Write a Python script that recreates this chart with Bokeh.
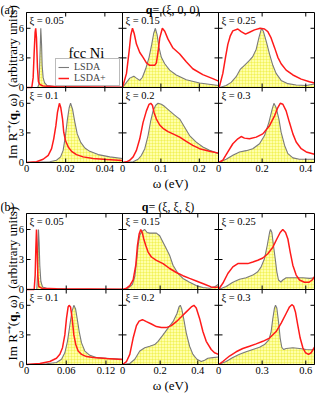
import math
from bokeh.plotting import figure
from bokeh.models import Range1d, Label, Legend, LegendItem
from bokeh.core.properties import value
from bokeh.embed import file_html
from bokeh.resources import INLINE

SERIF = "Liberation Serif"
GRAY = "#7a7a7a"
RED = "#ff1a1a"
FILL = "#ffffa8"

# ---------------- data: (a) q = (xi, 0, 0) ----------------
w_a005_lsda = [0, 0.0055, 0.0058, 0.0063, 0.0066, 0.0070, 0.0073, 0.0077, 0.0080, 0.0085, 0.0092, 0.0105, 0.0153, 0.0323, 0.049]
im_a005_lsda = [0, 0, 0.05, 0.3, 1.5, 4.0, 6.0, 4.3, 2.2, 1.0, 0.5, 0.2, 0.1, 0.05, 0.03]
w_a005_ldau = [0, 0.0027, 0.0034, 0.0039, 0.0044, 0.0047, 0.0051, 0.0056, 0.0061, 0.0068, 0.0085, 0.0153, 0.049]
im_a005_ldau = [0, 0, 1.0, 3.5, 5.6, 6.0, 5.0, 2.0, 0.6, 0.3, 0.15, 0.08, 0.03]

w_a015_lsda = [0, 0.0104, 0.019, 0.0294, 0.0363, 0.045, 0.0519, 0.0606, 0.0692, 0.0761, 0.0813, 0.0856, 0.090, 0.0952, 0.1012, 0.110, 0.1228, 0.140, 0.166, 0.2007, 0.25]
im_a015_lsda = [0, 0.52, 0.95, 1.15, 0.95, 0.72, 1.04, 1.92, 3.06, 4.37, 5.5, 6.0, 5.35, 4.04, 3.06, 2.41, 1.76, 1.27, 0.78, 0.46, 0.2]
w_a015_ldau = [0, 0.0104, 0.0173, 0.0216, 0.026, 0.0303, 0.0363, 0.045, 0.0536, 0.0623, 0.0709, 0.0839, 0.0882, 0.0926, 0.0969, 0.1038, 0.110, 0.1185, 0.1315, 0.149, 0.166, 0.183, 0.209, 0.235, 0.25]
im_a015_ldau = [0, 1.43, 3.7, 5.3, 6.0, 5.5, 4.4, 3.55, 3.06, 2.5, 2.25, 2.25, 2.5, 3.6, 5.0, 6.0, 5.7, 4.9, 4.0, 3.4, 2.6, 1.9, 1.3, 0.9, 0.65]

w_a025_lsda = [0, 0.0046, 0.0351, 0.0581, 0.081, 0.0993, 0.119, 0.142, 0.157, 0.173, 0.185, 0.197, 0.206, 0.2185, 0.234, 0.249, 0.264, 0.287, 0.318, 0.356, 0.402, 0.44]
im_a025_lsda = [0, 0, 0.2, 0.52, 1.1, 1.83, 2.25, 2.74, 3.13, 3.88, 5.02, 6.0, 5.67, 4.7, 3.39, 2.25, 1.43, 0.72, 0.39, 0.26, 0.2, 0.35]
w_a025_ldau = [0, 0.0046, 0.0199, 0.0321, 0.0428, 0.0535, 0.0657, 0.0886, 0.1039, 0.1238, 0.1421, 0.165, 0.191, 0.211, 0.226, 0.241, 0.257, 0.272, 0.287, 0.31, 0.341, 0.379, 0.417, 0.44]
im_a025_ldau = [0, 0.13, 1.43, 3.06, 4.37, 5.2, 5.74, 5.93, 5.67, 5.41, 5.6, 5.84, 6.0, 5.93, 5.67, 5.02, 4.04, 3.06, 2.41, 1.76, 1.27, 0.85, 0.59, 0.46]

w_a01_lsda = [0, 0.0119, 0.0153, 0.0174, 0.0187, 0.0199, 0.0209, 0.0218, 0.0225, 0.0235, 0.0247, 0.0259, 0.0276, 0.0298, 0.0323, 0.0366, 0.0425, 0.049]
im_a01_lsda = [0, 0.07, 0.23, 0.57, 1.23, 2.73, 4.4, 5.57, 6.0, 5.4, 4.07, 2.9, 2.07, 1.47, 1.13, 0.8, 0.57, 0.4]
w_a01_ldau = [0, 0.0051, 0.0085, 0.0111, 0.0128, 0.0139, 0.015, 0.0158, 0.0168, 0.0175, 0.0184, 0.019, 0.0199, 0.0213, 0.023, 0.0255, 0.0289, 0.034, 0.0408, 0.049]
im_a01_ldau = [0, 0.07, 0.33, 0.73, 1.4, 2.4, 3.73, 5.07, 6.0, 5.57, 4.4, 3.07, 2.23, 1.57, 1.13, 0.8, 0.57, 0.4, 0.3, 0.2]

w_a02_lsda = [0, 0.0277, 0.0407, 0.0493, 0.058, 0.0666, 0.0735, 0.0796, 0.0865, 0.0926, 0.1012, 0.11, 0.1228, 0.1358, 0.149, 0.1618, 0.1747, 0.192, 0.2093, 0.2266, 0.25]
im_a02_lsda = [0, 0.07, 0.33, 0.73, 1.4, 2.73, 4.23, 5.23, 5.8, 6.0, 5.9, 5.67, 5.23, 4.8, 4.4, 3.57, 2.73, 2.07, 1.57, 1.23, 0.9]
w_a02_ldau = [0, 0.0104, 0.019, 0.0277, 0.0363, 0.045, 0.0536, 0.0623, 0.0692, 0.0735, 0.0779, 0.0822, 0.0882, 0.0969, 0.1055, 0.1185, 0.1315, 0.149, 0.166, 0.183, 0.2007, 0.2266, 0.25]
im_a02_ldau = [0, 0.07, 0.23, 0.57, 1.23, 2.4, 4.07, 5.23, 5.9, 6.0, 5.8, 5.07, 4.4, 3.8, 3.47, 3.13, 2.9, 2.57, 2.13, 1.73, 1.4, 1.13, 0.95]

w_a03_lsda = [0, 0.0351, 0.0657, 0.0963, 0.127, 0.157, 0.188, 0.211, 0.231, 0.246, 0.254, 0.264, 0.277, 0.287, 0.303, 0.318, 0.341, 0.371, 0.402, 0.44]
im_a03_lsda = [0, 0.33, 0.73, 1.07, 1.2, 1.4, 1.9, 2.73, 4.07, 5.4, 6.0, 5.57, 4.4, 3.07, 1.73, 0.9, 0.47, 0.33, 0.33, 0.33]
w_a03_ldau = [0, 0.0199, 0.0428, 0.0657, 0.0886, 0.1039, 0.119, 0.142, 0.173, 0.203, 0.234, 0.257, 0.272, 0.283, 0.295, 0.31, 0.325, 0.341, 0.356, 0.379, 0.402, 0.44]
im_a03_ldau = [0, 0.23, 1.07, 1.9, 2.4, 2.63, 2.47, 2.4, 2.57, 2.9, 3.73, 4.73, 5.57, 6.0, 5.9, 5.23, 4.07, 2.9, 2.07, 1.4, 1.07, 0.83]

# ---------------- data: (b) q = (xi, xi, xi) ----------------
w_b005_lsda = [0, 0.0156, 0.0166, 0.0174, 0.0181, 0.0191, 0.0201, 0.0217, 0.0242, 0.0302, 0.06, 0.145]
im_b005_lsda = [0, 0, 1.44, 4.07, 6.0, 4.7, 2.4, 0.8, 0.26, 0.13, 0.05, 0.03]
w_b005_ldau = [0, 0.0116, 0.0131, 0.0141, 0.0151, 0.0161, 0.0171, 0.0186, 0.0227, 0.0453, 0.145]
im_b005_ldau = [0, 0, 1.44, 4.07, 6.0, 4.07, 1.44, 0.3, 0.13, 0.07, 0.03]

w_b015_lsda = [0, 0.03, 0.053, 0.0653, 0.0741, 0.083, 0.0918, 0.1041, 0.1183, 0.1306, 0.1447, 0.1624, 0.18, 0.1977, 0.2153, 0.233, 0.2506, 0.2683, 0.2948, 0.321, 0.3565, 0.3918, 0.427, 0.4624, 0.489, 0.51]
im_b015_lsda = [0, 0.13, 0.52, 1.28, 2.75, 4.4, 5.44, 5.84, 6.0, 5.7, 5.64, 5.64, 5.64, 5.38, 4.72, 4.07, 3.41, 2.43, 1.6, 1.11, 0.72, 0.39, 0.2, 0.13, 0.26, 0.52]
w_b015_ldau = [0, 0.0212, 0.0388, 0.0565, 0.0706, 0.0794, 0.0883, 0.0971, 0.1059, 0.113, 0.1236, 0.1359, 0.1536, 0.18, 0.2153, 0.2506, 0.286, 0.321, 0.3565, 0.3918, 0.436, 0.471, 0.489, 0.51]
im_b015_ldau = [0, 0.13, 0.39, 0.95, 2.43, 4.4, 5.54, 6.0, 5.64, 5.05, 4.4, 3.74, 3.25, 2.92, 2.59, 2.1, 1.7, 1.38, 1.11, 0.85, 0.52, 0.26, 0.2, 0.26]

w_b025_lsda = [0, 0.0527, 0.0986, 0.1444, 0.19, 0.236, 0.27, 0.293, 0.316, 0.335, 0.351, 0.3575, 0.367, 0.378, 0.39, 0.401, 0.4126, 0.4286, 0.442, 0.465, 0.511, 0.58, 0.626, 0.66]
im_b025_lsda = [0, 0.3, 0.72, 1.02, 1.18, 1.44, 1.77, 2.26, 3.08, 4.4, 5.7, 6.0, 5.7, 4.4, 3.08, 1.77, 0.95, 0.75, 0.95, 1.18, 1.18, 1.18, 1.11, 1.18]
w_b025_ldau = [0, 0.0298, 0.0642, 0.0986, 0.133, 0.167, 0.2017, 0.236, 0.27, 0.305, 0.339, 0.3736, 0.401, 0.424, 0.442, 0.461, 0.477, 0.493, 0.511, 0.534, 0.557, 0.591, 0.621, 0.644, 0.66]
im_b025_ldau = [0, 0.62, 1.6, 2.26, 2.59, 2.59, 2.59, 2.75, 2.92, 3.15, 3.57, 4.23, 5.05, 5.7, 6.0, 5.7, 5.05, 3.74, 2.43, 1.44, 0.95, 0.72, 0.72, 0.95, 1.28]

w_b01_lsda = [0, 0.0302, 0.0453, 0.0529, 0.0579, 0.0619, 0.0655, 0.0685, 0.0715, 0.074, 0.0765, 0.0796, 0.0831, 0.0881, 0.0957, 0.1057, 0.1259, 0.145]
im_b01_lsda = [0, 0.07, 0.2, 0.53, 1.19, 2.35, 4.0, 5.33, 6.0, 5.66, 4.67, 3.34, 2.19, 1.36, 0.93, 0.7, 0.6, 0.53]
w_b01_ldau = [0, 0.0201, 0.0352, 0.0453, 0.0504, 0.0544, 0.0579, 0.0604, 0.0629, 0.0644, 0.0665, 0.069, 0.0715, 0.0745, 0.078, 0.0831, 0.0906, 0.1007, 0.1208, 0.145]
im_b01_ldau = [0, 0.1, 0.3, 0.63, 1.03, 1.7, 3.0, 4.67, 5.83, 6.0, 5.83, 4.67, 3.0, 2.0, 1.36, 1.03, 0.8, 0.7, 0.6, 0.5]

w_b02_lsda = [0, 0.0388, 0.0653, 0.0918, 0.1183, 0.1447, 0.1712, 0.1889, 0.2153, 0.2418, 0.2683, 0.2895, 0.30, 0.3071, 0.3142, 0.3248, 0.3389, 0.3565, 0.3742, 0.3954, 0.4183, 0.436, 0.4536, 0.48, 0.51]
im_b02_lsda = [0, 0.1, 0.53, 1.36, 1.69, 1.85, 2.02, 2.35, 3.0, 3.68, 4.34, 5.17, 5.83, 6.0, 5.66, 4.67, 3.18, 1.85, 1.03, 0.53, 0.3, 0.43, 0.63, 0.7, 0.76]
w_b02_ldau = [0, 0.0212, 0.0388, 0.0565, 0.0741, 0.0883, 0.1059, 0.1271, 0.1536, 0.18, 0.2065, 0.233, 0.2595, 0.286, 0.3124, 0.3389, 0.3654, 0.3795, 0.3918, 0.4095, 0.4271, 0.4448, 0.4713, 0.4889, 0.51]
im_b02_ldau = [0, 0.3, 1.03, 2.68, 3.94, 4.4, 4.54, 4.34, 4.1, 3.84, 3.74, 3.74, 3.94, 4.34, 4.83, 5.33, 5.83, 6.0, 5.73, 4.67, 3.34, 2.35, 1.52, 1.19, 1.03]

w_b03_lsda = [0, 0.0527, 0.0986, 0.1444, 0.19, 0.236, 0.282, 0.316, 0.346, 0.362, 0.3736, 0.385, 0.392, 0.401, 0.4126, 0.424, 0.435, 0.447, 0.465, 0.511, 0.557, 0.603, 0.637, 0.66]
im_b03_lsda = [0, 0.3, 0.7, 1.03, 1.29, 1.52, 1.75, 2.02, 2.5, 3.34, 4.67, 5.73, 6.0, 5.73, 4.34, 2.68, 1.75, 1.52, 1.62, 1.69, 1.62, 1.52, 1.49, 1.52]
w_b03_ldau = [0, 0.0298, 0.0756, 0.1215, 0.167, 0.213, 0.259, 0.305, 0.3507, 0.3965, 0.431, 0.465, 0.488, 0.504, 0.516, 0.529, 0.545, 0.5615, 0.58, 0.598, 0.619, 0.637, 0.66]
im_b03_ldau = [0, 0.3, 0.86, 1.29, 1.62, 1.85, 2.09, 2.35, 2.68, 3.34, 4.2, 5.17, 5.83, 6.06, 5.93, 5.33, 4.0, 2.68, 1.69, 1.19, 1.03, 1.19, 1.75]

# ---------------- axes / labels ----------------
y_max = 7.6
y_ticks = [0, 3, 6]
y_tick_labels = ["0", "3", "6"]

x_max_a = [0.049, 0.25, 0.44]
x_ticks_a = [[0, 0.02, 0.04], [0, 0.1, 0.2], [0, 0.2, 0.4]]
x_tick_labels_a = [["0", "0.02", "0.04"], ["0", "0.1", "0.2"], ["0", "0.2", "0.4"]]
x_max_b = [0.145, 0.51, 0.66]
x_ticks_b = [[0, 0.06, 0.12], [0, 0.2, 0.4], [0, 0.3, 0.6]]
x_tick_labels_b = [["0", "0.06", "0.12"], ["0", "0.2", "0.4"], ["0", "0.3", "0.6"]]
xi_labels = [["ξ = 0.05", "ξ = 0.15", "ξ = 0.25"], ["ξ = 0.1", "ξ = 0.2", "ξ = 0.3"]]
series_labels = ["LSDA", "LSDA+"]
titles = ["(ξ, 0, 0)", "(ξ, ξ, ξ)"]
group_tags = ["(a)", "(b)"]

data_a = [[(w_a005_lsda, im_a005_lsda, w_a005_ldau, im_a005_ldau),
           (w_a015_lsda, im_a015_lsda, w_a015_ldau, im_a015_ldau),
           (w_a025_lsda, im_a025_lsda, w_a025_ldau, im_a025_ldau)],
          [(w_a01_lsda, im_a01_lsda, w_a01_ldau, im_a01_ldau),
           (w_a02_lsda, im_a02_lsda, w_a02_ldau, im_a02_ldau),
           (w_a03_lsda, im_a03_lsda, w_a03_ldau, im_a03_ldau)]]
data_b = [[(w_b005_lsda, im_b005_lsda, w_b005_ldau, im_b005_ldau),
           (w_b015_lsda, im_b015_lsda, w_b015_ldau, im_b015_ldau),
           (w_b025_lsda, im_b025_lsda, w_b025_ldau, im_b025_ldau)],
          [(w_b01_lsda, im_b01_lsda, w_b01_ldau, im_b01_ldau),
           (w_b02_lsda, im_b02_lsda, w_b02_ldau, im_b02_ldau),
           (w_b03_lsda, im_b03_lsda, w_b03_ldau, im_b03_ldau)]]

# ---------------- layout (canvas pixels, y from top) ----------------
W, H = 315, 393
COLS = [26, 122, 218, 314]
ROWS = [[12, 87, 162], [213, 289, 364]]
TICK = 4

p = figure(width=W, height=H, x_range=Range1d(0, W), y_range=Range1d(0, H),
           x_axis_type=None, y_axis_type=None, toolbar_location=None,
           output_backend="svg", min_border=0)
p.outline_line_color = None
p.background_fill_color = "white"
p.border_fill_color = "white"


def lab(x, y_top, text, size, align="left", baseline="alphabetic", style="normal", angle=0.0):
    p.add_layout(Label(x=x, y=H - y_top, x_units="screen", y_units="screen", text=text,
                       text_font=SERIF, text_font_size=size, text_font_style=style,
                       text_align=align, text_baseline=baseline, angle=angle,
                       text_color="black"))


legend_renderers = None
groups = [(data_a, x_max_a, x_ticks_a, x_tick_labels_a), (data_b, x_max_b, x_ticks_b, x_tick_labels_b)]
for g, (data, xmaxs, xts, xtls) in enumerate(groups):
    for ri in range(2):
        top, bot = ROWS[g][ri], ROWS[g][ri + 1]
        ky = y_max / (bot - top)
        yname = "y%d%d" % (g, ri)
        p.extra_y_ranges[yname] = Range1d(-(H - bot) * ky, bot * ky)
        for ci in range(3):
            xmax = xmaxs[ci]
            x0, x1 = COLS[ci], COLS[ci + 1]
            kx = xmax / (x1 - x0)
            xname = "x%d%d%d" % (g, ri, ci)
            p.extra_x_ranges[xname] = Range1d(-x0 * kx, (W - x0) * kx)
            kw = dict(x_range_name=xname, y_range_name=yname)
            w1, s1, w2, s2 = data[ri][ci]
            p.varea(x=w1, y1=0, y2=s1, fill_color=FILL, fill_alpha=1.0,
                    hatch_pattern="+", hatch_color="#e8e820", hatch_scale=3,
                    hatch_weight=0.6, hatch_alpha=0.6, **kw)
            gl = p.line(w1, s1, line_color=GRAY, line_width=1.1, **kw)
            rl = p.line(w2, s2, line_color=RED, line_width=1.5, **kw)
            if g == 0 and ri == 0 and ci == 0:
                legend_renderers = (gl, rl)
            # panel frame
            p.quad(left=[0], right=[xmax], bottom=[0], top=[y_max], fill_color=None,
                   line_color="black", line_width=1, **kw)
            # inward ticks on all four sides
            xt = xts[ci]
            ly = TICK * ky
            lx = TICK * kx
            p.segment(x0=xt + xt, y0=[0] * len(xt) + [y_max] * len(xt),
                      x1=xt + xt, y1=[ly] * len(xt) + [y_max - ly] * len(xt),
                      line_color="black", line_width=1, **kw)
            p.segment(x0=[0] * len(y_ticks) + [xmax] * len(y_ticks), y0=y_ticks + y_ticks,
                      x1=[lx] * len(y_ticks) + [xmax - lx] * len(y_ticks), y1=y_ticks + y_ticks,
                      line_color="black", line_width=1, **kw)
            # tick labels
            if ri == 1:
                p.text(x=xt, y=[0] * len(xt), text=xtls[ci], text_font=value(SERIF),
                       text_font_size=value("10.5px"), text_align="center",
                       text_baseline="top", y_offset=2, text_color="black", **kw)
            if ci == 0:
                p.text(x=[0] * len(y_ticks), y=y_ticks, text=y_tick_labels, text_font=value(SERIF),
                       text_font_size=value("10.5px"), text_align="right",
                       text_baseline="middle", x_offset=-2.5, text_color="black", **kw)
            # xi label
            p.text(x=[0], y=[y_max], text=[xi_labels[ri][ci]], text_font=value(SERIF),
                   text_font_size=value("10.5px"), text_align="left", text_baseline="top",
                   x_offset=3, y_offset=2, text_color="black", **kw)

# legend of panel (a) xi = 0.05
gl, rl = legend_renderers
leg_x, leg_bottom = COLS[0] + 29, ROWS[0][1] - 1
lg = Legend(items=[LegendItem(label=value(series_labels[0]), renderers=[gl]),
                   LegendItem(label=value(series_labels[1]), renderers=[rl])],
            location=(leg_x, H - leg_bottom), padding=2, spacing=0, margin=0,
            glyph_width=11, glyph_height=10, label_height=10, label_width=43,
            label_standoff=5, border_line_color="#777777", border_line_width=1,
            background_fill_color="white", background_fill_alpha=1.0,
            label_text_font=SERIF, label_text_font_size="10px",
            label_text_line_height=0.8)
p.add_layout(lg)
lab(leg_x + 18 + 31.8, leg_bottom - 8.3, "U", "10px", baseline="middle", style="italic")
lab(COLS[0] + 42, ROWS[0][0] + 40, "fcc Ni", "14.5px")

# titles, tags, axis titles
title_anchor = [152, 148]
title_base = [9, 206]
for g in range(2):
    lab(0, title_base[g], group_tags[g], "12px")
    lab(title_anchor[g], title_base[g], "q", "12px", align="right", style="bold")
    lab(title_anchor[g], title_base[g], " = " + titles[g], "12px")
    lab((COLS[1] + COLS[2]) / 2, ROWS[g][2] + 21, "ω (eV)", "13px", align="center")
    center = (ROWS[g][0] + ROWS[g][2]) / 2 - 0.5
    anchor = center + 33.3
    lab(12, anchor, "Im R⁻⁺(", "13px", align="right", angle=math.pi / 2)
    lab(12, anchor, "q", "13px", align="left", style="bold", angle=math.pi / 2)
    lab(12, anchor - 7.2, ", ω)\u00a0 (arbitrary units)", "13px", align="left", angle=math.pi / 2)

open("out.html", "w").write(file_html(p, INLINE))
